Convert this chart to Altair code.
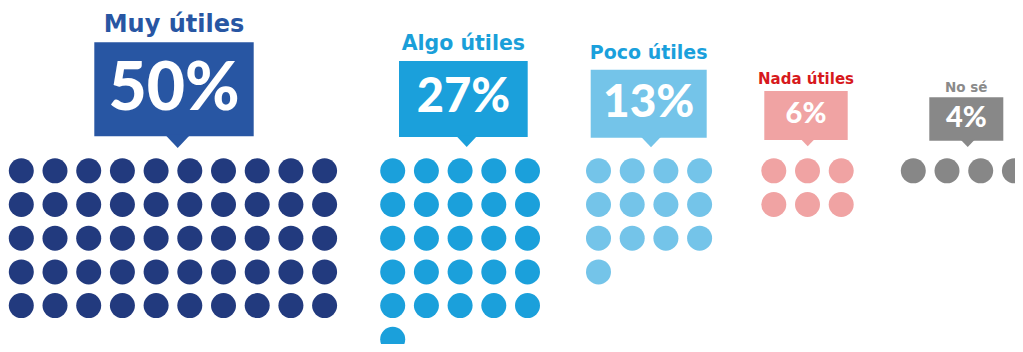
import altair as alt
import pandas as pd

# ---- data ----
categories = ["Muy útiles", "Algo útiles", "Poco útiles", "Nada útiles", "No sé"]
percent_labels = ["50%", "27%", "13%", "6%", "4%"]
dot_counts = [50, 26, 13, 6, 4]
grid_columns = [10, 5, 4, 3, 4]

# ---- styles ----
dot_colors = ["#223a7e", "#1ba0db", "#74c4e9", "#f0a3a3", "#878787"]
box_colors = ["#2856a3", "#1ba0db", "#74c4e9", "#f0a3a3", "#888888"]
title_colors = ["#2856a3", "#1a9fd9", "#1aa0dc", "#d7191c", "#8a8a8a"]

# ---- layout (page pixels) ----
first_dot_x = [21.3, 392.7, 598.5, 773.8, 913.3]
first_dot_y = 170.8
pitch = 33.7
dot_area = 625  # bounding-square area -> 25px diameter
box_left = [94.3, 399, 590.7, 764.3, 929.3]
box_right = [253.7, 527.7, 706.7, 847.7, 1003.3]
box_top = [42.3, 61, 69.7, 91, 97.3]
box_bottom = [136.3, 137, 137.7, 140, 140.7]
tip_x = [177.7, 466.7, 651, 807.7, 967.7]
tip_size = [676, 484, 441, 196, 196]
pct_baseline = [110, 111.7, 116.7, 123.3, 127.3]
pct_font = [66, 47, 46, 29, 29]
title_baseline = [31.7, 50, 59.3, 84, 91.7]
title_font = [24, 20.5, 19, 15, 13.5]

dot_rows = []
for i, cat in enumerate(categories):
    for k in range(dot_counts[i]):
        c = k % grid_columns[i]
        r = k // grid_columns[i]
        dot_rows.append({"cat": cat, "x": first_dot_x[i] + c * pitch,
                         "y": first_dot_y + r * pitch, "color": dot_colors[i]})
dots_df = pd.DataFrame(dot_rows)

lab_df = pd.DataFrame({
    "cat": categories,
    "pct": percent_labels,
    "x1": box_left,
    "x2": box_right,
    "cx": [(a + b) / 2 for a, b in zip(box_left, box_right)],
    "y1": box_top,
    "y2": box_bottom,
    "tipx": tip_x,
    "tips": tip_size,
    "pb": pct_baseline,
    "pf": pct_font,
    "tb": title_baseline,
    "tf": title_font,
    "bc": box_colors,
    "tc": title_colors,
})

W, H = 1007, 336
xs = alt.Scale(domain=[8, 8 + W], nice=False, zero=False)
ys = alt.Scale(domain=[8, 8 + H], nice=False, zero=False, reverse=True)
X = lambda f: alt.X(f, scale=xs, axis=None)
Y = lambda f: alt.Y(f, scale=ys, axis=None)

dots = alt.Chart(dots_df).mark_circle(opacity=1).encode(
    x=X("x:Q"), y=Y("y:Q"),
    color=alt.Color("color:N", scale=None),
    size=alt.value(dot_area),
)

boxes = alt.Chart(lab_df).mark_rect().encode(
    x=X("x1:Q"), x2="x2:Q", y=Y("y1:Q"), y2="y2:Q",
    color=alt.Color("bc:N", scale=None),
)

tips = alt.Chart(lab_df).mark_point(
    filled=True, opacity=1, strokeWidth=0,
    shape="M-1,-0.15L1,-0.15L0,0.9Z",
).encode(
    x=X("tipx:Q"), y=Y("y2:Q"),
    color=alt.Color("bc:N", scale=None),
    size=alt.Size("tips:Q", scale=None),
)

pcts = alt.Chart(lab_df).mark_text(
    font="Lato", fontWeight=900, baseline="alphabetic", align="center", color="white",
).encode(
    x=X("cx:Q"), y=Y("pb:Q"), text="pct:N",
    size=alt.Size("pf:Q", scale=None),
)

titles = alt.Chart(lab_df).mark_text(
    font="DejaVu Sans", fontWeight="bold", baseline="alphabetic", align="center",
).encode(
    x=X("cx:Q"), y=Y("tb:Q"), text="cat:N",
    size=alt.Size("tf:Q", scale=None),
    color=alt.Color("tc:N", scale=None),
)

chart = alt.layer(boxes, tips, dots, pcts, titles).properties(
    width=W, height=H, padding=0,
    autosize=alt.AutoSizeParams(type="none"),
).configure_view(stroke=None)

chart.save("out.html", embed_options={"renderer": "svg", "actions": False})
